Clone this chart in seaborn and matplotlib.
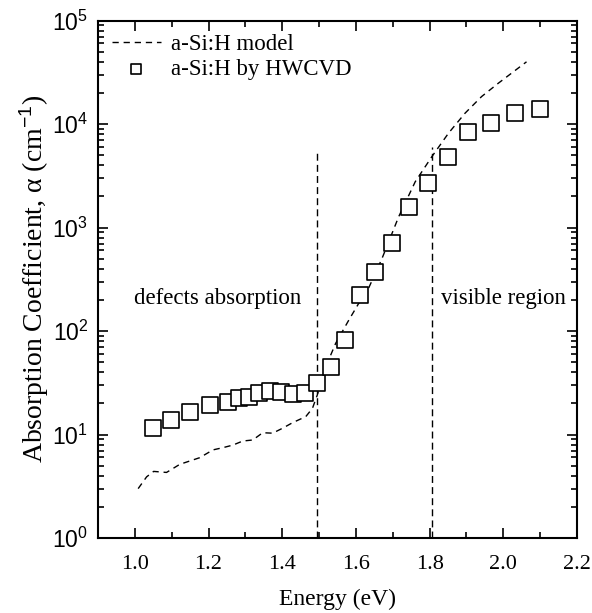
import numpy as np
import pandas as pd
import matplotlib
matplotlib.use("Agg")
import matplotlib.pyplot as plt
import matplotlib.ticker as mticker
import seaborn as sns

# Measured absorption coefficient of a-Si:H grown by HWCVD
meas_energy = [1.049, 1.099, 1.149, 1.205, 1.253, 1.282, 1.311, 1.338, 1.368,
               1.396, 1.428, 1.462, 1.495, 1.532, 1.569, 1.611, 1.653, 1.698,
               1.745, 1.795, 1.849, 1.905, 1.967, 2.031, 2.099]
meas_alpha = [11.6, 13.9, 16.4, 19.4, 20.6, 22.6, 23.1, 25.2, 26.6,
              25.6, 24.7, 25.2, 31.6, 45, 81, 223, 374, 713,
              1570, 2670, 4830, 8430, 10300, 12700, 13900]

# Modelled absorption spectrum
model_energy = [1.009, 1.032, 1.051, 1.086, 1.122, 1.176, 1.212, 1.239, 1.266,
                1.293, 1.320, 1.347, 1.374, 1.401, 1.428, 1.464, 1.482, 1.495,
                1.518, 1.545, 1.581, 1.608, 1.622, 1.671, 1.716, 1.761, 1.806,
                1.851, 1.896, 1.941, 1.986, 2.022, 2.063]
model_alpha = [3.0, 3.9, 4.4, 4.3, 5.15, 5.97, 7.1, 7.46, 7.9,
               8.65, 8.85, 10.4, 10.3, 11.5, 13.0, 14.9, 17.9, 24,
               45, 76, 128, 186, 207, 504, 1270, 2770, 4830,
               8130, 12700, 18400, 24700, 30900, 39900]

# Region boundaries (energy, top of marker line)
boundary_energy = [1.494, 1.806]
boundary_top = [5300, 6000]

region_labels = ["defects absorption", "visible region"]
x_ticks = [1.0, 1.2, 1.4, 1.6, 1.8, 2.0, 2.2]

sns.set_style("ticks")
plt.rcParams["font.family"] = ["Liberation Serif", "DejaVu Serif"]
plt.rcParams["mathtext.fontset"] = "custom"
plt.rcParams["mathtext.rm"] = "Liberation Sans"
plt.rcParams["mathtext.it"] = "Liberation Sans:italic"
plt.rcParams["mathtext.bf"] = "Liberation Sans:bold"
for key in ["text.color", "axes.labelcolor", "xtick.color", "ytick.color", "axes.edgecolor"]:
    plt.rcParams[key] = "black"

meas = pd.DataFrame({"energy": meas_energy, "alpha": meas_alpha})
model = pd.DataFrame({"energy": model_energy, "alpha": model_alpha})

fig = plt.figure(figsize=(5.92, 6.13), dpi=100)
ax = fig.add_axes([98 / 592, 1 - 538 / 613, (577 - 98) / 592, (538 - 20.5) / 613])

sns.lineplot(data=model, x="energy", y="alpha", ax=ax, color="black",
             linewidth=1.0, dashes=False, label="a-Si:H model")
ax.lines[-1].set_dashes([4.5, 3.5])

for e, top in zip(boundary_energy, boundary_top):
    ax.plot([e, e], [1, top], color="black", linewidth=1.0, dashes=[5, 3])

sns.scatterplot(data=meas, x="energy", y="alpha", ax=ax, marker="s", s=125,
                facecolor="white", edgecolor="black", linewidth=1.2,
                label="a-Si:H by HWCVD", zorder=3)

ax.set_yscale("log")
ax.set_xlim(0.9, 2.2)
ax.set_ylim(1, 1e5)

ax.set_xticks(x_ticks)
ax.set_xticklabels([f"{t:.1f}" for t in x_ticks])
ax.xaxis.set_minor_locator(mticker.MultipleLocator(0.1))
ax.yaxis.set_major_locator(mticker.LogLocator(base=10, numticks=10))
ax.yaxis.set_minor_locator(mticker.LogLocator(base=10, subs=np.arange(2, 10), numticks=10))
ax.yaxis.set_minor_formatter(mticker.NullFormatter())
ax.yaxis.set_major_formatter(mticker.FuncFormatter(lambda v, p: r"$10^{%d}$" % round(np.log10(v))))

ax.tick_params(which="both", direction="in", top=True, right=True, width=1.2)
ax.tick_params(which="major", length=7)
ax.tick_params(which="minor", length=4)
ax.tick_params(axis="x", labelsize=16, pad=12)
ax.tick_params(axis="y", labelsize=16.5, pad=7)
for s in ax.spines.values():
    s.set_linewidth(1.5)

ax.set_xlabel("Energy (eV)", fontsize=17, labelpad=11)
ax.set_ylabel(r"Absorption Coefficient, α (cm$^{-1}$)", fontsize=20, labelpad=1)

ax.text(1.224, 205, region_labels[0], ha="center", va="center", fontsize=16.5)
ax.text(1.832, 205, region_labels[1], ha="left", va="center", fontsize=16.5)

leg = ax.legend(loc="upper left", frameon=False, fontsize=16.5,
                handlelength=2.15, handletextpad=0.45, borderaxespad=0.2,
                labelspacing=0.15, bbox_to_anchor=(0.0, 1.0))
for h in leg.legend_handles:
    if hasattr(h, "set_sizes"):
        h.set_sizes([55])

fig.savefig("out.png", dpi=100)
